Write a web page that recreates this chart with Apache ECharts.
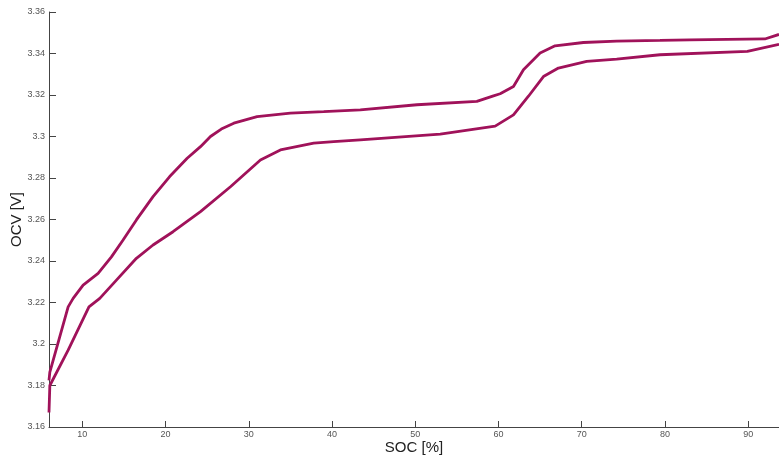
<!DOCTYPE html>
<html>
<head>
<meta charset="utf-8">
<script src="https://cdn.jsdelivr.net/npm/echarts@6/dist/echarts.min.js"></script>
<style>
  html, body { margin: 0; padding: 0; background: #fff; }
  #chart { width: 779px; height: 460px; }
</style>
</head>
<body>
<div id="chart"></div>
<script>
// Charge branch (upper OCV curve)
const socCharge = [6.0, 6.1, 8.3, 8.9, 10.1, 11.9, 13.5, 14.9, 16.5, 18.5, 20.5, 22.6, 24.2, 25.4, 26.7, 28.2, 31.0, 35.0, 39.0, 43.4, 50.2, 57.4, 59.4, 60.2, 61.8, 63.0, 65.0, 66.8, 70.2, 74.2, 79.4, 83.0, 92.0, 93.7];
const ocvCharge = [3.1825, 3.1864, 3.2179, 3.2220, 3.2284, 3.2340, 3.2420, 3.2501, 3.2598, 3.2710, 3.2807, 3.2895, 3.2951, 3.3000, 3.3036, 3.3064, 3.3096, 3.3113, 3.3120, 3.3128, 3.3153, 3.3169, 3.3196, 3.3206, 3.3241, 3.3322, 3.3402, 3.3437, 3.3453, 3.3460, 3.3463, 3.3466, 3.3470, 3.3492];

// Discharge branch (lower OCV curve)
const socDischarge = [6.0, 6.1, 8.3, 10.8, 12.1, 14.1, 16.5, 18.5, 20.9, 24.2, 27.8, 31.4, 33.8, 37.8, 40.2, 43.4, 53.0, 59.6, 61.8, 63.6, 65.4, 67.2, 70.6, 74.2, 79.4, 89.9, 93.7];
const ocvDischarge = [3.1670, 3.1800, 3.1970, 3.2179, 3.2220, 3.2308, 3.2413, 3.2477, 3.2541, 3.2638, 3.2758, 3.2887, 3.2935, 3.2968, 3.2975, 3.2984, 3.3011, 3.3050, 3.3104, 3.3194, 3.3289, 3.3330, 3.3362, 3.3373, 3.3394, 3.3410, 3.3444];

const socTicks = [10, 20, 30, 40, 50, 60, 70, 80, 90];
const ocvTicks = [3.16, 3.18, 3.2, 3.22, 3.24, 3.26, 3.28, 3.3, 3.32, 3.34, 3.36];

const pairs = (xs, ys) => xs.map((x, i) => [x, ys[i]]);

const lineColor = '#a0125a';
const axisColor = '#444';
const labelFont = { fontFamily: 'Liberation Sans, Arial, sans-serif', fontSize: 9, color: '#555' };

const chart = echarts.init(document.getElementById('chart'), null, { renderer: 'canvas' });
chart.setOption({
  animation: false,
  backgroundColor: '#fff',
  grid: { left: 49, right: 0, top: 12, bottom: 33, containLabel: false, outerBoundsMode: 'none' },
  xAxis: {
    type: 'value',
    min: 6,
    max: 93.7,
    name: 'SOC [%]',
    nameLocation: 'middle',
    nameGap: 13,
    nameMoveOverlap: false,
    nameTextStyle: { fontFamily: 'Liberation Sans, Arial, sans-serif', fontSize: 15, color: '#222' },
    axisLine: { show: true, onZero: false, lineStyle: { color: axisColor, width: 1 } },
    axisTick: { show: true, inside: true, length: 6, customValues: socTicks, lineStyle: { color: axisColor } },
    axisLabel: Object.assign({ customValues: socTicks, margin: 3 }, labelFont),
    splitLine: { show: false }
  },
  yAxis: {
    type: 'value',
    min: 3.16,
    max: 3.36,
    name: 'OCV [V]',
    nameLocation: 'middle',
    nameGap: 25,
    nameMoveOverlap: false,
    nameTextStyle: { fontFamily: 'Liberation Sans, Arial, sans-serif', fontSize: 15, color: '#222' },
    axisLine: { show: true, onZero: false, lineStyle: { color: axisColor, width: 1 } },
    axisTick: { show: true, inside: true, length: 7, customValues: ocvTicks, lineStyle: { color: axisColor } },
    axisLabel: Object.assign({ customValues: ocvTicks, margin: 4 }, labelFont),
    splitLine: { show: false }
  },
  series: [
    {
      type: 'line',
      data: pairs(socCharge, ocvCharge),
      showSymbol: false,
      smooth: false,
      clip: true,
      lineStyle: { color: lineColor, width: 2.8 }
    },
    {
      type: 'line',
      data: pairs(socDischarge, ocvDischarge),
      showSymbol: false,
      smooth: false,
      clip: true,
      lineStyle: { color: lineColor, width: 2.8 }
    }
  ]
});
</script>
</body>
</html>
